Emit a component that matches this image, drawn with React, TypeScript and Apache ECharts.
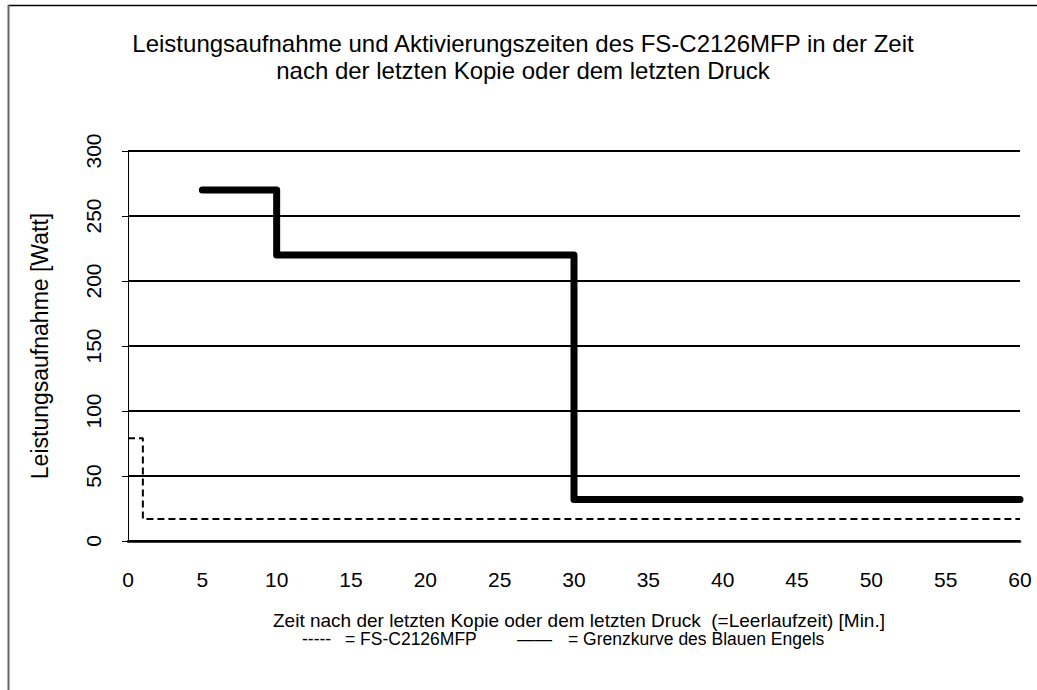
import React, { useEffect, useRef } from "react";
import * as echarts from "echarts";

const titleLines = [
  "Leistungsaufnahme und Aktivierungszeiten des FS-C2126MFP in der Zeit",
  "nach der letzten Kopie oder dem letzten Druck",
];
const xAxisTitle = "Zeit nach der letzten Kopie oder dem letzten Druck  (=Leerlaufzeit) [Min.]";
const legendDevice = ["-----", "= FS-C2126MFP"];
const legendLimit = ["——", "= Grenzkurve des Blauen Engels"];
const yAxisTitle = "Leistungsaufnahme [Watt]";

// minutes / watts (step changes)
const deviceX = [0, 1, 60];
const deviceY = [79, 17, 17];
const limitX = [5, 10, 30, 60];
const limitY = [270, 220, 32, 32];

const FONT = "'Liberation Sans', Arial, sans-serif";

function txt(text: string, x: number, y: number, fontSize: number, align = "center", rotation = 0) {
  return {
    type: "text",
    x,
    y,
    rotation,
    style: { text, fontSize, fontFamily: FONT, fill: "#000", textAlign: align, textVerticalAlign: "middle" },
  };
}

export default function App() {
  const ref = useRef<HTMLDivElement>(null);
  useEffect(() => {
    if (!ref.current) return;
    const chart = echarts.init(ref.current, null, { renderer: "svg" });
    chart.setOption({
      animation: false,
      backgroundColor: "#ffffff",
      textStyle: { fontFamily: FONT },
      grid: { left: 128, right: 17, top: 151, bottom: 149, containLabel: false },
      xAxis: {
        type: "value",
        min: 0,
        max: 60,
        interval: 5,
        axisLine: { show: true, onZero: false, lineStyle: { color: "#000", width: 2.5 } },
        axisTick: { show: false },
        splitLine: { show: false },
        axisLabel: { color: "#000", fontSize: 21, margin: 28, fontFamily: FONT },
      },
      yAxis: {
        type: "value",
        min: 0,
        max: 300,
        interval: 50,
        axisLine: { show: true, lineStyle: { color: "#000", width: 1 } },
        axisTick: { show: true, length: 6, lineStyle: { color: "#000", width: 1 } },
        splitLine: { show: true, lineStyle: { color: "#000", width: 2 } },
        axisLabel: { color: "#000", fontSize: 21, margin: 24, rotate: 90, fontFamily: FONT },
      },
      graphic: [
        { type: "line", shape: { x1: 8, y1: 5.5, x2: 1037, y2: 5.5 }, style: { stroke: "#000", lineWidth: 1.5 } },
        { type: "line", shape: { x1: 8.5, y1: 5, x2: 8.5, y2: 690 }, style: { stroke: "#666", lineWidth: 2 } },
        txt(titleLines[0], 523, 43, 24),
        txt(titleLines[1], 523, 70, 24),
        txt(yAxisTitle, 40, 346, 23, "center", Math.PI / 2),
        txt(xAxisTitle, 579, 620, 19),
        txt(legendDevice[0], 302, 639, 17.5, "left"),
        txt(legendDevice[1], 345, 639, 17.5, "left"),
        txt(legendLimit[0], 517, 639, 17.5, "left"),
        txt(legendLimit[1], 568, 639, 17.5, "left"),
      ],
      series: [
        {
          name: "FS-C2126MFP",
          type: "line",
          step: "end",
          symbol: "none",
          data: deviceX.map((x, i) => [x, deviceY[i]]),
          lineStyle: { color: "#000", width: 2, type: [7, 4] },
          z: 3,
        },
        {
          name: "Grenzkurve des Blauen Engels",
          type: "line",
          step: "end",
          symbol: "none",
          data: limitX.map((x, i) => [x, limitY[i]]),
          lineStyle: { color: "#000", width: 7, cap: "round", join: "round" },
          z: 4,
        },
      ],
    });
    return () => chart.dispose();
  }, []);
  return (
    <div
      ref={ref}
      style={{ position: "absolute", left: 0, top: 0, width: 1037, height: 690 }}
    />
  );
}
